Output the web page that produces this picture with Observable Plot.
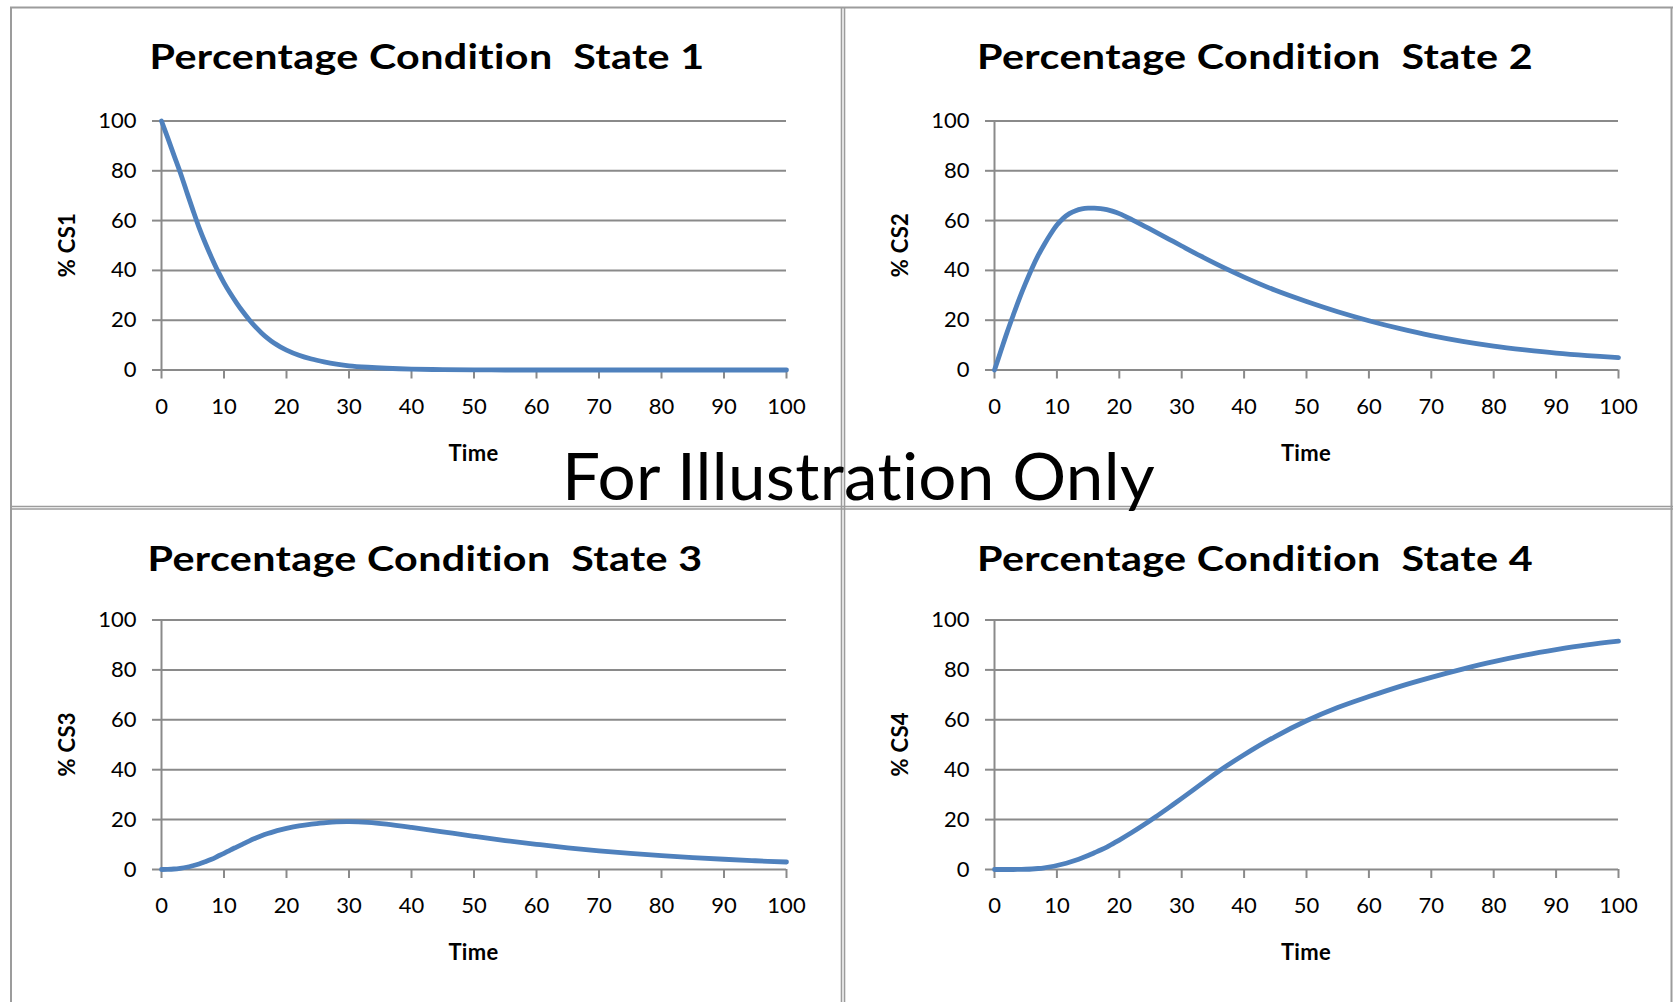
<!DOCTYPE html>
<html><head><meta charset="utf-8">
<script src="https://cdn.jsdelivr.net/npm/d3@7"></script>
<script src="https://cdn.jsdelivr.net/npm/@observablehq/plot@0.6"></script>
<style>
html,body{margin:0;padding:0;background:#fff;}
#page{position:relative;width:1673px;height:1002px;overflow:hidden;background:#fff;font-variant-ligatures:none;font-feature-settings:"liga" 0,"clig" 0;}
#page svg text{font-variant-ligatures:none;font-feature-settings:"liga" 0,"clig" 0;}
#page svg.panel{position:absolute;}
#overlay{position:absolute;left:0;top:0;pointer-events:none;}
#overlay text{letter-spacing:0.3px;}
</style></head>
<body><div id="page"></div>
<script>
// ---- data ----
const time = [0,1,2,3,4,5,6,7,8,9,10,11,12,13,14,15,16,17,18,19,20,22,24,26,28,30,33,36,40,45,50,55,60,65,70,75,80,85,90,95,100];
const cs1 = [100,93.2,86.2,79.3,71.8,64.4,57.3,51,45.2,39.8,35,30.8,27,23.5,20.3,17.4,14.9,12.7,10.8,9.3,8,5.9,4.4,3.3,2.4,1.7,1.1,0.7,0.35,0.15,0.06,0,0,0,0,0,0,0,0,0,0];
const cs2 = [0,7.5,15,22,28.8,35,40.8,46,50.5,54.6,58.2,60.9,62.8,64,64.7,65,65,64.8,64.4,63.7,62.8,60.4,57.8,55.2,52.5,49.8,45.8,42,37.3,32,27.5,23.4,19.8,16.6,13.8,11.5,9.6,8.1,6.8,5.8,5];
const cs3 = [0,0.05,0.2,0.5,0.9,1.5,2.2,3.1,4.1,5.3,6.5,7.8,9,10.2,11.4,12.5,13.5,14.4,15.2,15.9,16.5,17.5,18.2,18.7,19.1,19.2,18.9,18.2,16.9,15.1,13.3,11.6,10.1,8.7,7.5,6.5,5.6,4.8,4.1,3.5,3];
const cs4 = [0,0,0,0,0.05,0.1,0.2,0.4,0.7,1.1,1.6,2.2,2.9,3.7,4.6,5.6,6.7,7.8,9,10.4,11.8,14.8,18,21.4,24.9,28.5,34,39.5,46,53.3,59.6,64.9,69.3,73.4,77,80.3,83.3,85.9,88.1,90,91.5];
const xTicks = [0,10,20,30,40,50,60,70,80,90,100];
const yTicks = [0,20,40,60,80,100];
const panelTitles = ["Percentage Condition  State 1","Percentage Condition  State 2","Percentage Condition  State 3","Percentage Condition  State 4"];
const yLabels = ["% CS1","% CS2","% CS3","% CS4"];
const xLabel = "Time";
const watermark = "For Illustration Only";

// ---- layout / style ----
const BLUE = "#4F81BD", GRID = "#8a8a8a", BORDER = "#9c9c9c";
const FONT = "Lato, 'Open Sans', sans-serif";
const series = [cs1, cs2, cs3, cs4];
const boxes = [
  {left:12,  top:8,   w:830, h:497, x0:161, x1:786,  y100:120.5, y0:369.5, titleX:427,  titleW:555, titleY:69},
  {left:845, top:8,   w:827, h:497, x0:994, x1:1618, y100:120.5, y0:369.5, titleX:1255, titleW:556, titleY:69},
  {left:12,  top:509, w:830, h:493, x0:161, x1:786,  y100:619.5, y0:869,   titleX:425,  titleW:555, titleY:571},
  {left:845, top:509, w:827, h:493, x0:994, x1:1618, y100:619.5, y0:869,   titleX:1255, titleW:556, titleY:571}
];

const page = document.getElementById("page");

series.forEach((vals, i) => {
  const b = boxes[i];
  const data = time.map((t, j) => ({t, v: vals[j]}));
  const svg = Plot.plot({
    width: b.w, height: b.h,
    marginLeft: b.x0 - b.left, marginRight: b.left + b.w - b.x1,
    marginTop: b.y100 - b.top, marginBottom: b.top + b.h - b.y0,
    x: {domain: [0, 100]},
    y: {domain: [0, 100]},
    style: {fontFamily: FONT, fontSize: "22px", color: "#000", background: "transparent", overflow: "visible"},
    marks: [
      Plot.gridY(yTicks, {stroke: GRID, strokeOpacity: 1, strokeWidth: 2}),
      Plot.ruleX([0], {stroke: GRID, strokeWidth: 2}),
      Plot.axisY({ticks: yTicks, tickSize: 9, tickPadding: 16, stroke: GRID, strokeWidth: 2, fill: "#000", fontSize: 22, label: null}),
      Plot.axisX({ticks: xTicks, tickSize: 9, tickPadding: 19, stroke: GRID, strokeWidth: 2, fill: "#000", fontSize: 22, label: null}),
      Plot.lineY(data, {x: "t", y: "v", stroke: BLUE, strokeWidth: 4.8, curve: "catmull-rom", strokeLinecap: "round", strokeLinejoin: "round"})
    ]
  });
  svg.classList.add("panel");
  svg.style.left = b.left + "px";
  svg.style.top = b.top + "px";
  page.appendChild(svg);
});

// ---- overlay: borders, titles, axis titles, watermark ----
const ov = d3.select(page).append("svg").attr("id", "overlay").attr("width", 1673).attr("height", 1002);
const line = (x1, y1, x2, y2, w, c) => ov.append("line").attr("x1", x1).attr("y1", y1).attr("x2", x2).attr("y2", y2).attr("stroke", c || BORDER).attr("stroke-width", w);
line(10, 7.5, 1673, 7.5, 2);
line(11, 7, 11, 1002, 2);
line(1671.5, 7, 1671.5, 1002, 2);
line(841.5, 7, 841.5, 1002, 1.6);
line(844.5, 7, 844.5, 1002, 1.6);
line(10, 506.5, 1673, 506.5, 1.6);
line(10, 509, 1673, 509, 1.6);

boxes.forEach((b, i) => {
  ov.append("text").text(panelTitles[i])
    .attr("x", b.titleX).attr("y", b.titleY)
    .attr("text-anchor", "middle").attr("font-family", FONT).attr("font-weight", 700)
    .attr("font-size", 35).attr("fill", "#000").attr("xml:space", "preserve").style("white-space", "pre")
    .attr("textLength", b.titleW).attr("lengthAdjust", "spacingAndGlyphs");
  ov.append("text").text(xLabel)
    .attr("x", (b.x0 + b.x1) / 2).attr("y", b.y0 + 91)
    .attr("text-anchor", "middle").attr("font-family", FONT).attr("font-weight", 700)
    .attr("font-size", 22).attr("fill", "#000");
  const lx = b.x0 - 86, ly = (b.y0 + b.y100) / 2;
  ov.append("text").text(yLabels[i])
    .attr("transform", `translate(${lx},${ly}) rotate(-90)`)
    .attr("text-anchor", "middle").attr("font-family", FONT).attr("font-weight", 700)
    .attr("font-size", 22).attr("fill", "#000");
});

ov.append("text").text(watermark)
  .attr("x", 858.5).attr("y", 500)
  .attr("text-anchor", "middle").attr("font-family", FONT).attr("font-weight", 400)
  .attr("font-size", 65).attr("fill", "#000")
  .attr("textLength", 593).attr("lengthAdjust", "spacingAndGlyphs");
</script>
</body></html>
